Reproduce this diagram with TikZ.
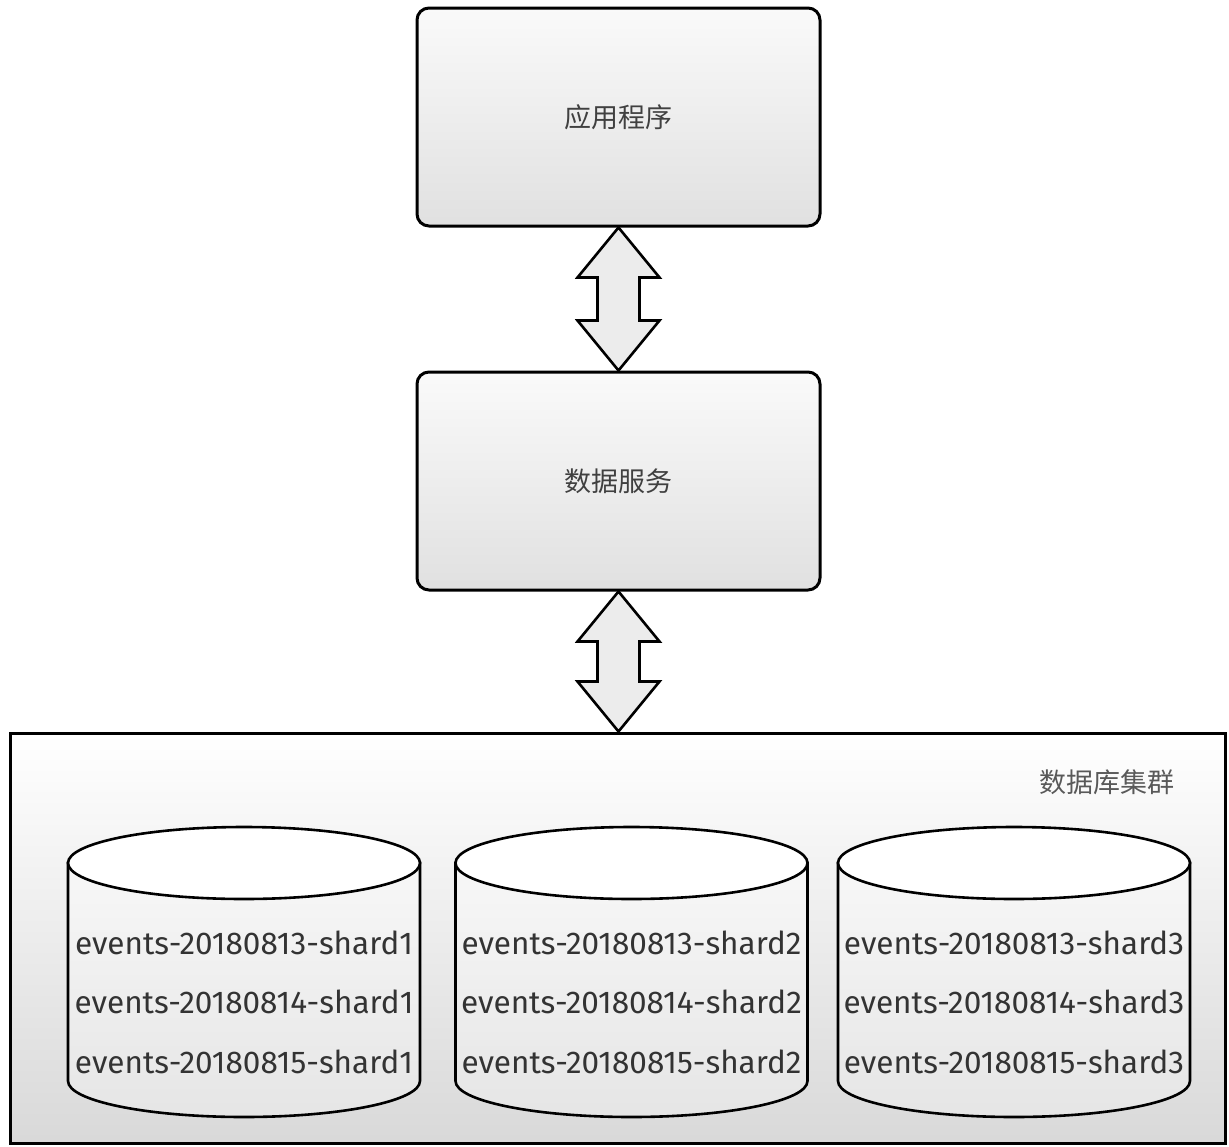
\documentclass[tikz,border=0pt]{standalone}
\usepackage{fontspec}
\setmainfont{Fira Sans}
\newfontfamily\cjk{Noto Sans CJK SC}
\usetikzlibrary{calc}

\tikzset{
  panel/.style={draw=black, line width=3pt, rounded corners=12pt,
    top color=gray!4, bottom color=gray!24,
    minimum width=403pt, minimum height=218pt,
    font=\cjk\fontsize{27}{27}\selectfont, text=black!75},
  clusterbox/.style={draw=black, line width=3pt,
    top color=white, bottom color=gray!30,
    minimum width=1215pt, minimum height=410pt},
  clusterlabel/.style={font=\cjk\fontsize{27}{27}\selectfont, text=black!65},
  dblarrow/.style={draw=black, line width=2.6pt, fill=gray!15, line join=miter},
  cylbody/.style={draw=black, line width=2.6pt, top color=gray!6, bottom color=gray!20},
  cyltop/.style={draw=black, line width=2.6pt, fill=white},
  shardtext/.style={align=center, text=black!80,
    font=\fontsize{31.5}{59.5}\selectfont, inner sep=0pt}
}

\begin{document}
\begin{tikzpicture}[x=1pt,y=-1pt]
\useasboundingbox (0,0) rectangle (1229,1146);
\fill[white] (0,0) rectangle (1229,1146);

% upper tiers
\node[panel] (app) at (618.5,117) {应用程序};
\node[panel] (svc) at (618.5,481) {数据服务};
\node[clusterbox] (cluster) at (617.5,938) {};
\node[clusterlabel] (clab) at (1107,782) {数据库集群};

% two-way arrows between the tiers
\draw[dblarrow] (app.south) -- ++(41,50) -- ++(-20,0)
  -- ($(svc.north)+(21,-50)$) -- ++(20,0) -- (svc.north)
  -- ++(-41,-50) -- ++(20,0) -- ($(app.south)+(-21,50)$) -- ++(-20,0) -- cycle;
\draw[dblarrow] (svc.south) -- ++(41,50) -- ++(-20,0)
  -- ($(cluster.north)+(22,-50)$) -- ++(20,0) -- (cluster.north -| svc.south)
  -- ++(-41,-50) -- ++(20,0) -- ($(svc.south)+(-21,50)$) -- ++(-20,0) -- cycle;

% shard databases
\foreach \cx/\k in {244/1, 631.5/2, 1014/3} {
  \path[cylbody] (\cx-176,863) -- (\cx-176,1081)
    arc[start angle=180, end angle=360, x radius=176pt, y radius=36pt]
    -- (\cx+176,863) -- cycle;
  \draw[cyltop] (\cx,863) ellipse[x radius=176pt, y radius=36pt];
  \node[shardtext] (shard\k) at (\cx,1002)
    {events-20180813-shard\k\\events-20180814-shard\k\\events-20180815-shard\k};
}
\end{tikzpicture}
\end{document}
